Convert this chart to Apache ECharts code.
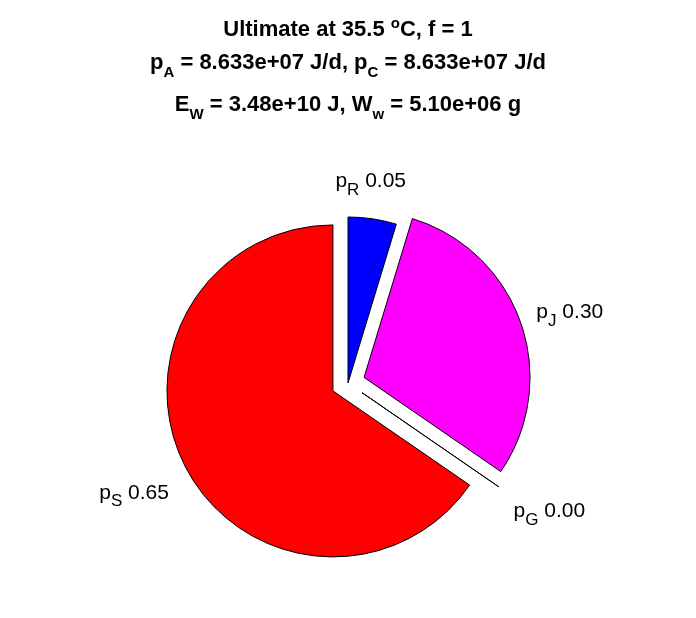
<!DOCTYPE html>
<html><head><meta charset="utf-8">
<script src="https://cdn.jsdelivr.net/npm/echarts@6/dist/echarts.min.js"></script>
<style>html,body{margin:0;padding:0;background:#fff}#c{width:696px;height:618px}</style>
</head><body><div id="c"></div>
<script>
// ---- data ----
const sliceNames = ['R', 'J', 'G', 'S'];
const sliceValues = [0.047, 0.299, 0.000, 0.654];
const sliceExploded = [false, true, true, true];
const temperatureC = '35.5';
const fValue = '1';
const pA = '8.633e+07';
const pC = '8.633e+07';
const EW = '3.48e+10';
const Ww = '5.10e+06';

// ---- styles ----
const sliceColors = ['#0000ff', '#ff00ff', '#ffff00', '#ff0000'];
const labelNudge = [[-12, -2], [-6, 7], [2, -6], [0, 0]];
const FONT = "'Liberation Sans', Arial, Helvetica, sans-serif";

const titleRich = {
  t: { fontSize: 22, fontWeight: 'bold', color: '#000', fontFamily: FONT },
  sub: { fontSize: 15, fontWeight: 'bold', color: '#000', fontFamily: FONT, padding: [20, 0, 0, 0] },
  sup: { fontSize: 15, fontWeight: 'bold', color: '#000', fontFamily: FONT, padding: [0, 0, 13, 0] }
};
function titleLine(text, top) {
  return { text: text, left: 'center', top: top, padding: 0, textStyle: { rich: titleRich } };
}

const data = sliceNames.map((n, i) => ({
  name: n,
  value: sliceValues[i],
  selected: sliceExploded[i],
  itemStyle: { color: sliceColors[i] },
  labelLine: { length: sliceExploded[i] ? 53 : 36, length2: 0, show: false }
}));

const chart = echarts.init(document.getElementById('c'), null, { renderer: 'canvas' });
chart.setOption({
  animation: false,
  backgroundColor: '#fff',
  title: [
    titleLine('{t|Ultimate at ' + temperatureC + ' }{sup|o}{t|C, f = ' + fValue + '}', 16),
    titleLine('{t|p}{sub|A}{t| = ' + pA + ' J/d, p}{sub|C}{t| = ' + pC + ' J/d}', 45),
    titleLine('{t|E}{sub|W}{t| = ' + EW + ' J, W}{sub|w}{t| = ' + Ww + ' g}', 87)
  ],
  series: [{
    type: 'pie',
    center: [348, 383],
    radius: 166,
    startAngle: 90,
    clockwise: true,
    selectedMode: 'multiple',
    selectedOffset: 17,
    avoidLabelOverlap: false,
    minShowLabelAngle: 0,
    emphasis: { disabled: true },
    itemStyle: { borderColor: '#000', borderWidth: 1 },
    label: {
      show: true,
      position: 'outside',
      formatter: p => '{m|p}{s|' + p.name + '}{m| ' + p.value.toFixed(2) + '}',
      rich: {
        m: { fontSize: 21, color: '#000', fontFamily: FONT },
        s: { fontSize: 17, color: '#000', fontFamily: FONT, padding: [18, 0, 0, 0] }
      }
    },
    labelLine: { show: false },
    labelLayout: p => ({ align: 'center', dx: labelNudge[p.dataIndex][0], dy: labelNudge[p.dataIndex][1] }),
    data: data
  }]
});
</script></body></html>
